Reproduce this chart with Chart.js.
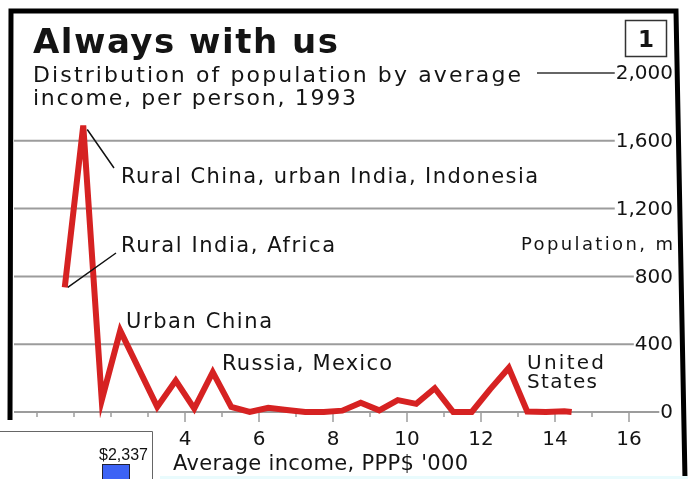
<!DOCTYPE html>
<html>
<head>
<meta charset="utf-8">
<script src="https://cdn.jsdelivr.net/npm/chart.js@4.4.1/dist/chart.umd.min.js"></script>
<style>
    html, body { margin: 0; padding: 0; background: #fff; overflow: hidden; }
    canvas { display: block; }
</style>
</head>
<body>
<canvas id="chart" width="688" height="479"></canvas>
<script>
// average income per person, PPP$ '000 (x) and population, m (y)
const incomeK = [0.75, 1.25, 1.75, 2.25, 3.25, 3.75, 4.25, 4.75, 5.25, 5.75, 6.25, 6.75, 7.25, 7.75,
    8.25, 8.75, 9.25, 9.75, 10.25, 10.75, 11.25, 11.75, 12.25, 12.75, 13.25, 13.75, 14.25, 14.45];
const populationM = [735, 1690, 70, 480, 30, 185, 20, 235, 30, 0, 25, 12, 0, 0,
    8, 55, 10, 70, 48, 140, 0, 0, 135, 260, 3, 0, 5, 0];

const yTicks = [0, 400, 800, 1200, 1600, 2000];
const xTickLabels = [4, 6, 8, 10, 12, 14, 16];
const xMinorTicks = [0, 1, 2, 3, 5, 7, 9, 11, 13, 15];

const GRID = "#9c9c9c";
const INK = "#141414";
const FONT = "'DejaVu Sans', Verdana, sans-serif";

// draws text and stretches letter spacing so it covers the given width
function fitText(ctx, text, x, y, font, width, align) {
    ctx.font = font;
    ctx.letterSpacing = "0px";
    let ls = 0;
    if (width) {
        const w = ctx.measureText(text).width;
        ls = (width - w) / Math.max(1, text.length - 1);
        ctx.letterSpacing = ls + "px";
    }
    ctx.textAlign = align || "left";
    let dx = (align === "right") ? ls : 0;
    ctx.fillText(text, x + dx, y);
    ctx.letterSpacing = "0px";
}

const economistStyle = {
    id: "economistStyle",
    beforeDatasetsDraw(chart) {
        const ctx = chart.ctx;
        const area = chart.chartArea;
        const ys = chart.scales.y;
        const xs = chart.scales.x;
        ctx.save();

        // horizontal rules running into the right hand labels
        ctx.textBaseline = "middle";
        yTicks.forEach(v => {
            const py = ys.getPixelForValue(v);
            const label = v.toLocaleString("en-US");
            ctx.font = "20px " + FONT;
            const w = ctx.measureText(label).width;
            ctx.strokeStyle = v === 2000 ? "#333" : GRID;
            ctx.lineWidth = v === 2000 ? 1.5 : 2;
            ctx.beginPath();
            ctx.moveTo(v === 2000 ? 537 : area.left, py);
            ctx.lineTo(673 - w - 1, py);
            ctx.stroke();
            ctx.fillStyle = INK;
            fitText(ctx, label, 673, py + 1, "20px " + FONT, null, "right");
        });

        // tick marks under the axis
        const base = ys.getPixelForValue(0);
        ctx.strokeStyle = GRID;
        ctx.lineWidth = 1.5;
        xMinorTicks.forEach(v => {
            const px = xs.getPixelForValue(v);
            ctx.beginPath();
            ctx.moveTo(px, base);
            ctx.lineTo(px, base + 5);
            ctx.stroke();
        });
        ctx.fillStyle = INK;
        ctx.textAlign = "center";
        ctx.textBaseline = "alphabetic";
        ctx.font = "20px " + FONT;
        xTickLabels.forEach(v => {
            const px = xs.getPixelForValue(v);
            ctx.beginPath();
            ctx.moveTo(px, base);
            ctx.lineTo(px, base + 10);
            ctx.stroke();
            ctx.fillText(String(v), px, 445);
        });
        ctx.restore();
    },
    afterDraw(chart) {
        const ctx = chart.ctx;
        const xs = chart.scales.x;
        const ys = chart.scales.y;
        ctx.save();
        ctx.fillStyle = INK;
        ctx.textBaseline = "alphabetic";

        // headline block
        fitText(ctx, "Always with us", 33, 53, "bold 34px " + FONT, 305);
        fitText(ctx, "Distribution of population by average", 33, 82, "22px " + FONT, 488);
        fitText(ctx, "income, per person, 1993", 33, 105, "22px " + FONT, 323);

        // chart number box
        ctx.strokeStyle = "#333";
        ctx.lineWidth = 1.5;
        ctx.strokeRect(625.5, 20.5, 41, 36);
        ctx.font = "bold 23px " + FONT;
        ctx.textAlign = "center";
        ctx.fillText("1", 646, 47);

        // axis captions
        fitText(ctx, "Population, m", 673, 250, "18px " + FONT, 152, "right");
        fitText(ctx, "Average income, PPP$ '000", 173, 470, "21px " + FONT, 295);

        // group labels with leader lines
        const peak = [xs.getPixelForValue(incomeK[1]), ys.getPixelForValue(populationM[1])];
        const first = [xs.getPixelForValue(incomeK[0]), ys.getPixelForValue(populationM[0])];
        ctx.strokeStyle = "#111";
        ctx.lineWidth = 1.5;
        ctx.beginPath();
        ctx.moveTo(peak[0] + 4, peak[1] + 4);
        ctx.lineTo(114, 168);
        ctx.moveTo(first[0] + 3, first[1]);
        ctx.lineTo(116, 253);
        ctx.stroke();

        fitText(ctx, "Rural China, urban India, Indonesia", 121, 183, "21px " + FONT, 417);
        fitText(ctx, "Rural India, Africa", 121, 252, "21px " + FONT, 214);
        fitText(ctx, "Urban China", 126, 328, "21px " + FONT, 146);
        fitText(ctx, "Russia, Mexico", 222, 370, "21px " + FONT, 170);
        fitText(ctx, "United", 527, 369, "20px " + FONT, 77);
        fitText(ctx, "States", 527, 388, "20px " + FONT, 70);

        // black frame
        ctx.strokeStyle = "#000";
        ctx.lineWidth = 5;
        ctx.beginPath();
        ctx.moveTo(10, 420);
        ctx.lineTo(11, 11);
        ctx.lineTo(676, 11);
        ctx.lineTo(685, 479);
        ctx.stroke();

        // pieces of the neighbouring clipping at the bottom
        ctx.fillStyle = "#e9fbfd";
        ctx.fillRect(160, 476, 528, 3);
        ctx.fillStyle = "#fff";
        ctx.fillRect(0, 431, 153, 48);
        ctx.strokeStyle = "#666";
        ctx.lineWidth = 1;
        ctx.beginPath();
        ctx.moveTo(0, 431.5);
        ctx.lineTo(152.5, 431.5);
        ctx.lineTo(152.5, 479);
        ctx.stroke();
        ctx.fillStyle = "#111";
        ctx.font = "16px 'Liberation Sans', Arial, sans-serif";
        ctx.textAlign = "right";
        ctx.fillText("$2,337", 148, 460);
        ctx.fillStyle = "#3d63f5";
        ctx.fillRect(102, 464, 28, 15);
        ctx.strokeStyle = "#223";
        ctx.strokeRect(102.5, 464.5, 27, 15);
        ctx.restore();
    }
};

const points = incomeK.map((v, i) => ({ x: v, y: populationM[i] }));

new Chart(document.getElementById("chart"), {
    type: "line",
    data: {
        datasets: [{
            data: points,
            borderColor: "#d62222",
            borderWidth: 6,
            borderJoinStyle: "miter",
            borderCapStyle: "butt",
            pointRadius: 0,
            tension: 0,
            clip: false
        }]
    },
    options: {
        responsive: false,
        devicePixelRatio: 1,
        animation: false,
        layout: { padding: { left: 14, right: 28, top: 73, bottom: 67 } },
        plugins: { legend: { display: false }, tooltip: { enabled: false } },
        scales: {
            x: { type: "linear", display: false, min: -23 / 37, max: 623 / 37 },
            y: { display: false, min: 0, max: 2000 }
        }
    },
    plugins: [economistStyle]
});
</script>
</body>
</html>
